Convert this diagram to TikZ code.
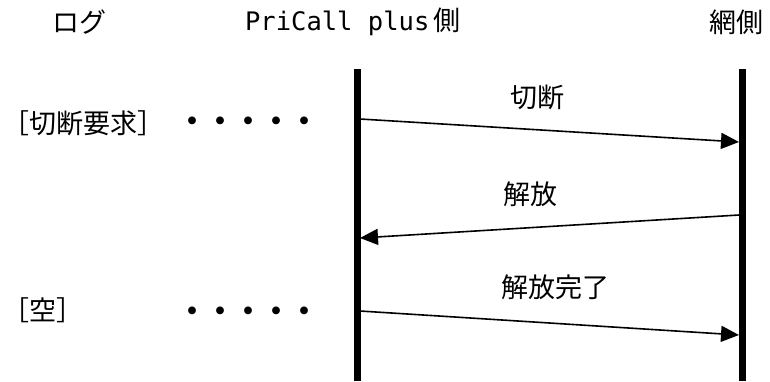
\documentclass[tikz,border=0pt]{standalone}
\usepackage{fontspec}
\setmainfont{Noto Sans CJK JP}
\newfontfamily\latinmono{DejaVu Sans Mono}
\usetikzlibrary{arrows.meta}
\tikzset{
  lifeline/.style={line width=7pt},
  msg/.style={line width=1.6pt,-{Triangle[length=18pt,width=16pt]}},
  hdr/.style={inner sep=0pt,font=\fontsize{27}{30}\selectfont},
  lbl/.style={inner sep=0pt,font=\fontsize{27}{30}\selectfont},
  logtxt/.style={inner sep=0pt,anchor=west,font=\fontsize{27}{30}\selectfont},
  dotsrow/.style={inner sep=0pt,anchor=west,font=\fontsize{28}{28}\selectfont\bfseries}
}
\begin{document}
\begin{tikzpicture}[x=1pt,y=-1pt]
\useasboundingbox (0,0) rectangle (770,381);
% headers
\node[hdr] (hlog) at (79,22) {ログ};
\node[hdr] (hpc) at (353,22) {{\latinmono\fontsize{25.5}{30}\selectfont PriCall plus}\,側};
\node[hdr] (hnet) at (736,22) {網側};
% lifelines
\coordinate (ltop) at (357,69);
\coordinate (lbot) at (357,381);
\coordinate (rtop) at (742,69);
\coordinate (rbot) at (742,381);
\draw[lifeline] (ltop) -- (lbot);
\draw[lifeline] (rtop) -- (rbot);
% message endpoints
\coordinate (a1s) at (360,119);
\coordinate (a1e) at (739,142);
\coordinate (a2s) at (739,215);
\coordinate (a2e) at (360,238);
\coordinate (a3s) at (360,311);
\coordinate (a3e) at (739,335);
\draw[msg] (a1s) -- (a1e);
\draw[msg] (a2s) -- (a2e);
\draw[msg] (a3s) -- (a3e);
% labels
\node[lbl] (l1) at (537,97) {切断};
\node[lbl] (l2) at (530,194) {解放};
\node[lbl] (l3) at (555,287) {解放完了};
% log
\node[logtxt] (g1) at (2,123) {［切断要求］};
\node[logtxt] (g2) at (2,310) {［空］};
\node[dotsrow] (d1) at (178,124) {・・・・・};
\node[dotsrow] (d2) at (178,314) {・・・・・};
\end{tikzpicture}
\end{document}
